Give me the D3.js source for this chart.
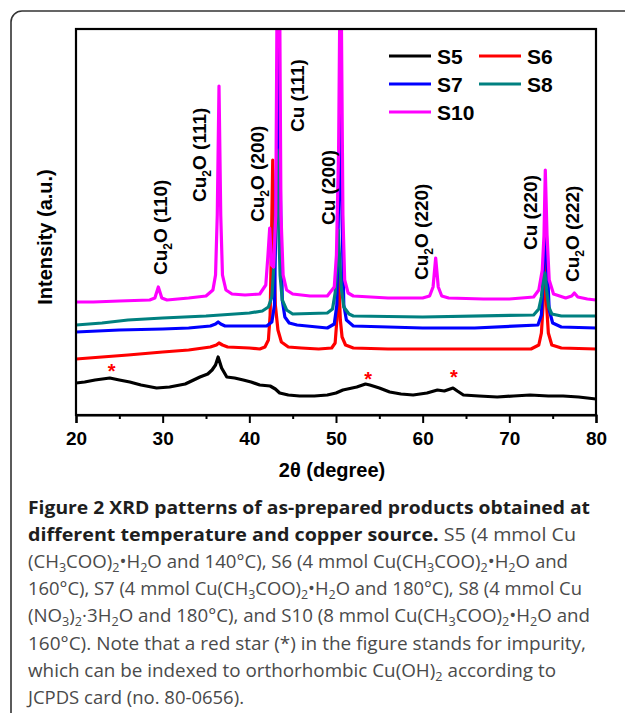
<!DOCTYPE html>
<html><head><meta charset="utf-8">
<script src="https://cdn.jsdelivr.net/npm/d3@7/dist/d3.min.js"></script>
<style>body{margin:0;background:#fff}svg{display:block}</style>
</head><body><svg id="c" width="625" height="713"></svg>
<script>
// ---------- data (2θ in degrees, intensity in a.u.) ----------
const seriesNames = ["S5", "S6", "S7", "S8", "S10"];
const seriesColors = ["#000000", "#ff0000", "#0000ff", "#008080", "#ff00ff"];

const s5 = [[20,32],[21,33],[22.2,35],[23.9,37],[25,35],[26.2,33],[27.5,30],[29.3,27],[30.8,28],[32.6,31],[34.3,38],
  [35.2,41],[35.7,45],[36.1,50],[36.4,58],[36.8,47],[37.4,38],[38.3,37],[39.3,35],[40.2,33],[41.2,30],[42.4,29],
  [43.0,26],[43.5,22],[44.5,20],[45.8,19],[47.5,19],[49.0,20],[50.0,22],[50.8,25],[52.4,28],[53.4,31],[53.9,30],
  [55,27],[56.2,23],[57.5,21],[58.9,20],[60.5,22],[61.7,25],[62.5,24],[63.5,27],[64.0,24],[64.7,20],[66.5,19],
  [68.6,18],[70.5,19],[72.4,20],[74.5,19],[76.2,19],[78,18],[79,17],[80,16]];

const s6 = [[20,56],[23,58],[26,60],[30,63],[33,65],[35.5,68],[36.2,70],[36.5,72],[36.9,70],[37.5,68],[40,67],
  [41.2,66],[41.8,68],[42.2,75],[42.4,100],[42.55,170],[42.7,255],[42.85,160],[43.0,110],[43.3,85],[43.7,73],
  [44.5,68],[46,67],[48,66],[49.5,67],[49.9,72],[50.1,95],[50.3,140],[50.5,95],[50.7,78],[51.1,70],[52,67],
  [56,66],[60,66],[66,66],[72.5,66],[73.4,70],[73.7,82],[73.9,110],[74.1,175],[74.3,110],[74.5,82],[74.9,70],
  [76,67],[80,66]];

const s7 = [[20,83],[25,85],[30,86],[33,87],[35.5,89],[36.1,91],[36.4,93],[36.7,91],[37.2,89],[40,89],[42,89],
  [42.6,93],[42.9,110],[43.1,215],[43.35,420],[43.6,215],[43.8,115],[44.1,98],[44.6,92],[45.5,90],[49,87],
  [49.8,91],[50.1,110],[50.3,215],[50.5,325],[50.7,195],[50.9,110],[51.2,95],[52,89],[56,88],[60,87],[66,87],
  [73.3,90],[73.7,100],[74.0,155],[74.2,202],[74.4,145],[74.6,105],[75.0,92],[76,88],[80,87]];

const s8 = [[20,90],[23,92],[26,95],[30,97],[35,99],[40,102],[41.5,104],[42.2,108],[42.6,118],[42.9,160],
  [43.05,215],[43.2,265],[43.35,200],[43.55,140],[43.8,115],[44.3,105],[45,101],[49,102],[49.6,106],[49.9,122],
  [50.1,150],[50.25,185],[50.4,160],[50.6,128],[50.9,108],[51.5,101],[52,99],[60,98],[72.8,100],[73.4,106],
  [73.7,118],[73.95,140],[74.1,142],[74.3,125],[74.55,108],[74.9,101],[76,99],[80,99]];

const s10 = [[20,113],[22,113],[25,114],[28.5,115],[29.1,117],[29.5,128],[29.9,117],[30.5,115],[33,117],[35,119],
  [35.8,125],[36.1,140],[36.3,200],[36.5,329],[36.7,200],[36.9,140],[37.3,125],[38,121],[39.5,120],[41.2,121],
  [41.9,130],[42.15,160],[42.35,187],[42.55,150],[42.8,148],[43.05,200],[43.2,420],[43.5,420],[43.65,200],
  [43.9,140],[44.3,125],[45,121],[47,119],[49,119],[49.8,128],[50.05,160],[50.3,265],[50.45,420],[50.6,420],
  [50.8,200],[51.0,135],[51.4,122],[52,119],[56,117],[60,117],[60.8,119],[61.2,128],[61.5,157],[61.8,128],
  [62.2,119],[63,117],[67,116],[70,116],[72.8,118],[73.4,125],[73.8,145],[74.0,180],[74.15,245],[74.35,180],
  [74.6,135],[75.1,121],[76.5,117],[77.2,119],[77.5,122],[77.9,118],[79,116],[80,115]];

const seriesData = [s5, s6, s7, s8, s10];

const xTicks = [20, 30, 40, 50, 60, 70, 80];
const xMinorTicks = [25, 35, 45, 55, 65, 75];

const peakLabels = ["Cu_2O (110)", "Cu_2O (111)", "Cu_2O (200)", "Cu (111)", "Cu (200)", "Cu_2O (220)", "Cu (220)", "Cu_2O (222)"];
const peakLabelX = [29.7, 34.3, 40.9, 45.6, 49.1, 59.9, 72.4, 77.3];
const peakLabelY = [140, 213, 193, 283, 190, 135, 165, 133];

const starX = [24.1, 53.7, 63.6];
const starY = [47, 39, 41];

const xTitle = "2θ (degree)";
const yTitle = "Intensity (a.u.)";

const captionLines = [
  [["b", "Figure 2 XRD patterns of as-prepared products obtained at"]],
  [["b", "different temperature and copper source."], ["n", " S5 (4 mmol Cu"]],
  [["n", "(CH_3COO)_2•H_2O and 140°C), S6 (4 mmol Cu(CH_3COO)_2•H_2O and"]],
  [["n", "160°C), S7 (4 mmol Cu(CH_3COO)_2•H_2O and 180°C), S8 (4 mmol Cu"]],
  [["n", "(NO_3)_2·3H_2O and 180°C), and S10 (8 mmol Cu(CH_3COO)_2•H_2O and"]],
  [["n", "160°C). Note that a red star (*) in the figure stands for impurity,"]],
  [["n", "which can be indexed to orthorhombic Cu(OH)_2 according to"]],
  [["n", "JCPDS card (no. 80-0656)."]]
];
const captionWidths = [562, 548, 540, 554, 562, 558, 528, 216];

// ---------- drawing ----------
const svg = d3.select("#c");
const FONT = "'Liberation Sans', Arial, sans-serif";
const M = {l: 76, r: 596, t: 29, b: 415};
const x = d3.scaleLinear().domain([20, 80]).range([M.l, M.r]);
const y = d3.scaleLinear().domain([0, 386]).range([M.b, M.t]);

// outer rounded frame
svg.append("rect").attr("x", 11).attr("y", 11).attr("width", 700).attr("height", 800)
  .attr("rx", 11).attr("fill", "none").attr("stroke", "#333").attr("stroke-width", 1.6);

svg.append("clipPath").attr("id", "pc").append("rect")
  .attr("x", M.l).attr("y", M.t).attr("width", M.r - M.l).attr("height", M.b - M.t);

const line = d3.line().x(d => x(d[0])).y(d => y(d[1]));
const gl = svg.append("g").attr("clip-path", "url(#pc)");
seriesData.forEach((s, i) => {
  gl.append("path").datum(s).attr("d", line).attr("fill", "none")
    .attr("stroke", seriesColors[i]).attr("stroke-width", 3.2)
    .attr("stroke-linejoin", "round").attr("stroke-linecap", "round");
});

// plot frame
svg.append("rect").attr("x", M.l).attr("y", M.t).attr("width", M.r - M.l).attr("height", M.b - M.t)
  .attr("fill", "none").attr("stroke", "#000").attr("stroke-width", 2.2);

// axes
const ax = svg.append("g").attr("transform", `translate(0,${M.b})`)
  .call(d3.axisBottom(x).tickValues(xTicks).tickSize(8).tickPadding(9).tickFormat(d3.format("d")));
ax.select(".domain").attr("stroke-width", 2.2);
ax.selectAll(".tick line").attr("stroke-width", 2);
ax.selectAll(".tick text").attr("font-family", FONT).attr("font-weight", "bold").attr("font-size", 19).attr("fill", "#000");
const axm = svg.append("g").attr("transform", `translate(0,${M.b})`)
  .call(d3.axisBottom(x).tickValues(xMinorTicks).tickSize(4).tickFormat(""));
axm.select(".domain").remove();
axm.selectAll(".tick line").attr("stroke-width", 2);

// axis titles
svg.append("text").attr("x", 332).attr("y", 477).attr("text-anchor", "middle")
  .attr("font-family", FONT).attr("font-weight", "bold").attr("font-size", 20).text(xTitle);
svg.append("text").attr("transform", "translate(52,237) rotate(-90)").attr("text-anchor", "middle")
  .attr("font-family", FONT).attr("font-weight", "bold").attr("font-size", 20).text(yTitle);

// rich text helper: "_d" becomes a subscript digit
function addRich(textSel, str, subSize, shift, attrs) {
  let pending = 0;
  str.split(/(_\d)/).forEach(p => {
    if (!p) return;
    const sp = textSel.append("tspan");
    if (attrs) Object.entries(attrs).forEach(([k, v]) => sp.attr(k, v));
    if (/^_\d$/.test(p)) {
      sp.attr("font-size", subSize).attr("dy", shift + pending).text(p[1]);
      pending = -shift;
    } else {
      if (pending) sp.attr("dy", pending);
      pending = 0;
      sp.text(p);
    }
  });
  return pending;
}

// peak labels
peakLabels.forEach((lab, i) => {
  const t = svg.append("text")
    .attr("transform", `translate(${x(peakLabelX[i]) + 6.5},${y(peakLabelY[i])}) rotate(-90)`)
    .attr("font-family", FONT).attr("font-weight", "bold").attr("font-size", 19).attr("fill", "#000");
  addRich(t, lab, 12, 5);
});

// red stars
starX.forEach((sx, i) => {
  svg.append("text").attr("x", x(sx)).attr("y", y(starY[i]) + 10).attr("text-anchor", "middle")
    .attr("font-family", FONT).attr("font-weight", "bold").attr("font-size", 20).attr("fill", "#ff0000").text("*");
});

// legend
const legX = [389, 479], legY0 = 56, legDY = 28;
seriesNames.forEach((n, i) => {
  const col = i % 2, row = Math.floor(i / 2);
  const lx = legX[col], ly = legY0 + row * legDY;
  svg.append("line").attr("x1", lx).attr("x2", lx + 42).attr("y1", ly).attr("y2", ly)
    .attr("stroke", seriesColors[i]).attr("stroke-width", 3);
  svg.append("text").attr("x", lx + 48).attr("y", ly + 7.5).attr("font-family", FONT)
    .attr("font-weight", "bold").attr("font-size", 21).text(n);
});

// caption
const CF = "'Open Sans', 'Noto Sans', sans-serif";
captionLines.forEach((segs, i) => {
  const t = svg.append("text").attr("x", 28).attr("y", 514 + i * 27.1)
    .attr("font-family", CF).attr("font-size", 18.5)
    .attr("textLength", captionWidths[i]).attr("lengthAdjust", "spacingAndGlyphs");
  let carry = 0;
  segs.forEach(([kind, str]) => {
    const attrs = {fill: kind === "b" ? "#1e1e1e" : "#4a4a4a", "font-weight": kind === "b" ? "bold" : "normal"};
    carry = addRich(t, str, 12.5, 4, attrs);
  });
});
</script></body></html>
